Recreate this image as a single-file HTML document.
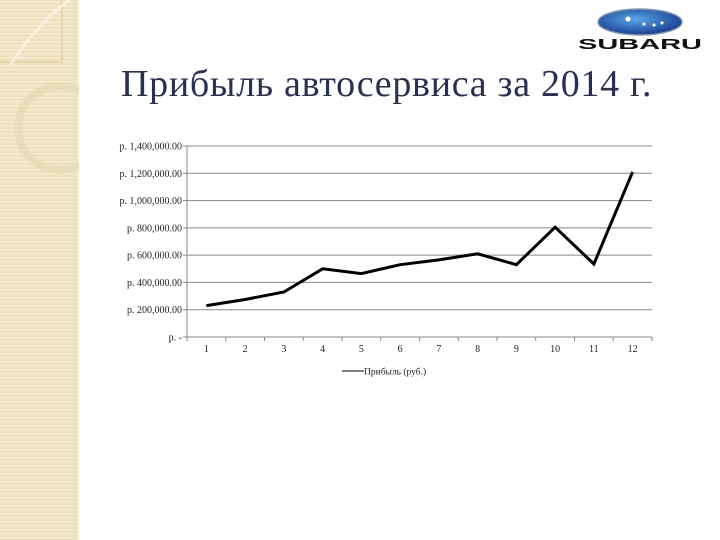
<!DOCTYPE html>
<html><head><meta charset="utf-8">
<style>
html,body{margin:0;padding:0;background:#fff;}
#page{position:relative;width:720px;height:540px;overflow:hidden;background:#fff;font-family:"Liberation Serif",serif;}
#strip{position:absolute;left:0;top:0;width:79px;height:540px;
background:repeating-linear-gradient(0deg,#efe3c2 0 2px,#f6eed6 2px 3px,#ecdfb8 3px 4px);}
#title{position:absolute;left:121px;top:62px;font-size:38px;color:#2a3150;white-space:nowrap;letter-spacing:0.7px;}
</style></head><body>
<div id="page">
<div id="strip">
<svg width="79" height="540">
<line x1="78" y1="0" x2="78" y2="540" stroke="#f5ecd0" stroke-width="2"/>
<circle cx="60" cy="128" r="42" fill="none" stroke="#e7dab2" stroke-width="8" opacity="0.7"/>
<path d="M0,62 L62,62 L62,0" fill="none" stroke="#e4d6ae" stroke-width="2"/>
<path d="M10,65 Q40,20 70,0" fill="none" stroke="#f7f0dc" stroke-width="3"/>
</svg>
</div>
<svg style="position:absolute;left:570px;top:4px" width="140" height="50">
<defs><radialGradient id="g" cx="0.45" cy="0.4" r="0.6"><stop offset="0" stop-color="#5aa6ec"/><stop offset="1" stop-color="#1a3f8f"/></radialGradient></defs>
<ellipse cx="70" cy="18" rx="42" ry="13" fill="url(#g)" stroke="#8a9ab0" stroke-width="1.5"/>
<circle cx="58" cy="15" r="2.5" fill="#fff"/><circle cx="74" cy="20" r="1.5" fill="#fff"/><circle cx="84" cy="21" r="1.5" fill="#fff"/><circle cx="92" cy="19" r="1.5" fill="#fff"/>
<text x="70" y="45" text-anchor="middle" font-family="Liberation Sans,sans-serif" font-weight="bold" font-size="15" fill="#111" textLength="124" lengthAdjust="spacingAndGlyphs">SUBARU</text>
</svg>
<div id="title">Прибыль автосервиса за 2014 г.</div>
<svg id="chart" style="position:absolute;left:0;top:0" width="720" height="540"></svg>
</div>
<script>
const categories=["1","2","3","4","5","6","7","8","9","10","11","12"];
const profitValues=[230000,275000,330000,500000,465000,530000,565000,610000,530000,805000,535000,1210000];
const yTicks=[0,200000,400000,600000,800000,1000000,1200000,1400000];
const yTickLabels=["р. -","р. 200,000.00","р. 400,000.00","р. 600,000.00","р. 800,000.00","р. 1,000,000.00","р. 1,200,000.00","р. 1,400,000.00"];
const seriesName="Прибыль (руб.)";
const NS="http://www.w3.org/2000/svg";
const svg=document.getElementById('chart');
const L=187,R=652,T=146,B=337,yMax=1400000;
const xs=i=>L+(R-L)/categories.length*(i+0.5);
const ys=v=>B-(v/yMax)*(B-T);
function mk(t,a){const e=document.createElementNS(NS,t);for(const k in a)e.setAttribute(k,a[k]);svg.appendChild(e);return e;}
yTicks.forEach((v,i)=>{
  const g=mk('line',{x1:L-4,x2:R,y1:ys(v),y2:ys(v),stroke:'#888','stroke-width':1});
  
  
  const t=mk('text',{x:L-5,y:ys(v)+3.5,'text-anchor':'end','font-size':10,'font-family':'Liberation Serif,serif',fill:'#222'});
  t.textContent=yTickLabels[i];
  
  
});
const ax=mk('line',{x1:L,x2:L,y1:T,y2:B+4,stroke:'#888'});


categories.forEach((c,i)=>{
  const tk=mk('line',{x1:L+(R-L)/12*(i+1),x2:L+(R-L)/12*(i+1),y1:B,y2:B+4,stroke:'#888'});
  
  
  const t=mk('text',{x:xs(i),y:B+15,'text-anchor':'middle','font-size':10,'font-family':'Liberation Serif,serif',fill:'#222'});
  t.textContent=c;
  
  
});
const line=mk('polyline',{points:profitValues.map((v,i)=>xs(i)+','+ys(v)).join(' '),fill:'none',stroke:'#000','stroke-width':3,'stroke-linejoin':'miter'});


const ll=mk('line',{x1:342,x2:364,y1:371,y2:371,stroke:'#000','stroke-width':1});


const lt=mk('text',{x:364,y:374.5,'font-size':9.5,'font-family':'Liberation Serif,serif',fill:'#222'});
lt.textContent=seriesName;


</script>
</body></html>
